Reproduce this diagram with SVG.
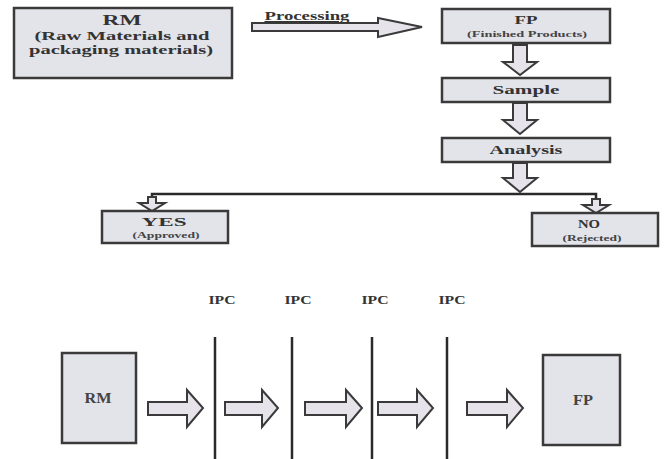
<svg xmlns="http://www.w3.org/2000/svg" width="667" height="459" viewBox="0 0 667 459">
<style>
.box{fill:#e3e3ea;stroke:#3a3a3a;stroke-width:2.5}
.arr{fill:#e6e3ea;stroke:#3a3a3a;stroke-width:2;stroke-linejoin:miter}
.line{stroke:#2a2a2a;stroke-width:2.5;fill:none}
.t{font-family:"Liberation Serif","DejaVu Serif",serif;fill:#333;text-anchor:middle;font-weight:bold}
.s{font-family:"Liberation Serif","DejaVu Serif",serif;fill:#444;text-anchor:middle;font-weight:bold}
</style>
<rect width="667" height="459" fill="#ffffff"/>
<g id="connectors">
<path class="arr" d="M252,23 H378 V18 L422,27 L378,37 V31 H252 Z"/>
<text x="307" y="20" class="t" font-size="12" textLength="85" lengthAdjust="spacingAndGlyphs" text-decoration="underline">Processing</text>
<path class="arr" d="M513,45 H527 V62 H537 L520,75 L503,62 H513 Z"/>
<path class="arr" d="M513,103 H527 V120 H537 L520,134 L503,120 H513 Z"/>
<path class="arr" d="M513,163 H527 V178 H537 L520,192 L503,178 H513 Z"/>
<polyline class="line" points="152,206 152,194 596,194 596,208"/>
<path class="arr" d="M148,197 H156 V203 H165 L152,211 L139,203 H148 Z"/>
<path class="arr" d="M592,199 H600 V205 H609 L596,213 L583,205 H592 Z"/>
<line class="line" x1="215" y1="337" x2="215" y2="459"/>
<line class="line" x1="292" y1="337" x2="292" y2="459"/>
<line class="line" x1="372" y1="337" x2="372" y2="459"/>
<line class="line" x1="447" y1="337" x2="447" y2="459"/>
<path class="arr" d="M148,402 H187 V390 L203,408 L187,427 V415 H148 Z"/>
<path class="arr" d="M225,402 H262 V390 L278,408 L262,427 V415 H225 Z"/>
<path class="arr" d="M305,402 H346 V390 L362,408 L346,427 V415 H305 Z"/>
<path class="arr" d="M378,402 H417 V390 L433,408 L417,427 V415 H378 Z"/>
<path class="arr" d="M467,402 H507 V390 L523,408 L507,427 V415 H467 Z"/>
</g>
<g id="rm-top">
<rect class="box" x="14" y="8" width="218" height="70"/>
<text x="122" y="25" class="t" font-size="15" textLength="39" lengthAdjust="spacingAndGlyphs">RM</text>
<text x="122" y="40" class="t" font-size="12.5" textLength="175" lengthAdjust="spacingAndGlyphs">(Raw Materials and</text>
<text x="121" y="54" class="t" font-size="12.5" textLength="184" lengthAdjust="spacingAndGlyphs">packaging materials)</text>
</g>
<g id="fp-top">
<rect class="box" x="442" y="9" width="168" height="34"/>
<text x="526" y="24" class="t" font-size="12" textLength="23" lengthAdjust="spacingAndGlyphs">FP</text>
<text x="527" y="37" class="s" font-size="8.5" textLength="120" lengthAdjust="spacingAndGlyphs">(Finished Products)</text>
</g>
<g id="sample">
<rect class="box" x="442" y="78" width="168" height="24"/>
<text x="526" y="94" class="t" font-size="12" textLength="67" lengthAdjust="spacingAndGlyphs">Sample</text>
</g>
<g id="analysis">
<rect class="box" x="442" y="138" width="168" height="24"/>
<text x="526" y="154" class="t" font-size="12" textLength="73" lengthAdjust="spacingAndGlyphs">Analysis</text>
</g>
<g id="yes">
<rect class="box" x="102" y="211" width="126" height="32"/>
<text x="164" y="226" class="t" font-size="12" textLength="45" lengthAdjust="spacingAndGlyphs">YES</text>
<text x="166" y="238" class="s" font-size="8.5" textLength="67" lengthAdjust="spacingAndGlyphs">(Approved)</text>
</g>
<g id="no">
<rect class="box" x="532" y="213" width="126" height="33"/>
<text x="589" y="228" class="t" font-size="12" textLength="22" lengthAdjust="spacingAndGlyphs">NO</text>
<text x="592" y="241" class="s" font-size="8.5" textLength="59" lengthAdjust="spacingAndGlyphs">(Rejected)</text>
</g>
<g id="ipc-labels">
<text x="222" y="304" class="t" font-size="13" textLength="27" lengthAdjust="spacingAndGlyphs">IPC</text>
<text x="298" y="304" class="t" font-size="13" textLength="27" lengthAdjust="spacingAndGlyphs">IPC</text>
<text x="375" y="304" class="t" font-size="13" textLength="27" lengthAdjust="spacingAndGlyphs">IPC</text>
<text x="452" y="304" class="t" font-size="13" textLength="27" lengthAdjust="spacingAndGlyphs">IPC</text>
</g>
<g id="rm-bottom">
<rect class="box" x="62" y="353" width="74" height="90"/>
<text x="98" y="403" class="s" font-size="15" font-weight="normal" textLength="27" lengthAdjust="spacingAndGlyphs">RM</text>
</g>
<g id="fp-bottom">
<rect class="box" x="543" y="355" width="77" height="90"/>
<text x="583" y="405" class="s" font-size="15" textLength="20" lengthAdjust="spacingAndGlyphs">FP</text>
</g>
</svg>
